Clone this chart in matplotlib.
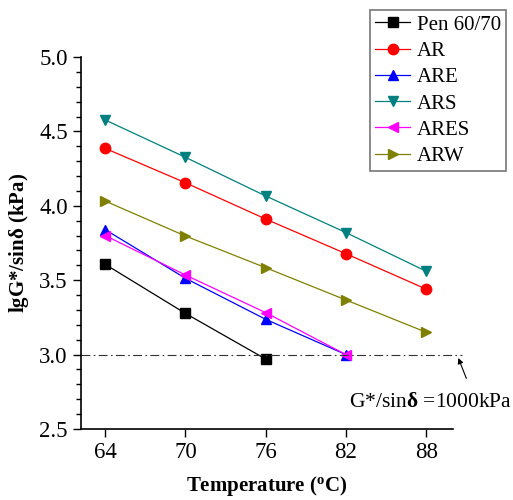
import matplotlib
matplotlib.use("Agg")
import matplotlib.pyplot as plt
from matplotlib.ticker import MultipleLocator

plt.rcParams['font.family'] = ['Liberation Serif', 'DejaVu Serif']
plt.rcParams['mathtext.fontset'] = 'custom'
plt.rcParams['mathtext.rm'] = 'Liberation Serif'
plt.rcParams['mathtext.bf'] = 'Liberation Serif:bold'

##### Dados #####
temp = [64, 70, 76, 82, 88]
pen = [3.607, 3.277, 2.97]
ar = [4.386, 4.155, 3.911, 3.678, 3.44]
are = [3.84, 3.513, 3.237, 3.0]
ars = [4.577, 4.326, 4.066, 3.82, 3.56]
ares = [3.80, 3.535, 3.282, 3.0]
arw = [4.032, 3.797, 3.584, 3.367, 3.15]

series = [
  ("Pen 60/70", pen, "black", "s"),
  ("AR", ar, "red", "o"),
  ("ARE", are, "blue", "^"),
  ("ARS", ars, "#008080", "v"),
  ("ARES", ares, "magenta", "<"),
  ("ARW", arw, "#808000", ">"),
]

fig = plt.figure(figsize=(5.13, 5.0), dpi=100)
ax = fig.add_axes([0.158, 0.142, 0.725, 0.744])

for name, vals, col, mk in series:
  ax.plot(temp[:len(vals)], vals, color=col, marker=mk, markersize=7.5,
          linewidth=0.9, label=name, clip_on=False)

# limite 1000 kPa
ax.plot([62.2, 90.7], [3.0, 3.0], color="#333333", linestyle=(0, (8, 3, 1.5, 3)),
        linewidth=0.8, clip_on=False)
ax.annotate("", xy=(90.4, 2.977), xytext=(91.0, 2.84), annotation_clip=False,
            arrowprops=dict(arrowstyle="-|>", color="black", lw=0.8, shrinkA=0, shrinkB=0,
                            mutation_scale=8))
ax.text(88.3, 2.68, "G*/sin" + r"$\mathbf{\delta}$" + " =1000kPa", ha="center", va="center",
        fontsize=15.5, clip_on=False)

ax.set_xlim(62.2, 90.0)
ax.set_ylim(2.5, 5.0)
ax.set_xticks(temp)
ax.yaxis.set_major_locator(MultipleLocator(0.5))
ax.yaxis.set_minor_locator(MultipleLocator(0.1))
ax.yaxis.set_major_formatter(matplotlib.ticker.FormatStrFormatter("%.1f"))
ax.tick_params(axis="both", which="major", direction="out", length=6, width=1, labelsize=16.5)
ax.tick_params(axis="y", which="minor", direction="out", length=3.5, width=1)
ax.spines["top"].set_visible(False)
ax.spines["right"].set_visible(False)
for s in ["left", "bottom"]:
  ax.spines[s].set_linewidth(1.2)

ax.set_xlabel("Temperature (" + r"$\mathbf{^{o}}$" + "C)", fontsize=15, fontweight="bold", labelpad=8)
ax.set_ylabel("lgG*/sin" + r"$\mathbf{\delta}$" + " (kPa)", fontsize=15, fontweight="bold", labelpad=6)

leg = fig.legend(loc="upper right", bbox_to_anchor=(506 / 513, 1 - 10 / 500), fontsize=15,
                 frameon=True, fancybox=False, handlelength=1.7, handletextpad=0.3,
                 borderpad=0.25, labelspacing=0.32, borderaxespad=0)
leg.get_frame().set_edgecolor("#555555")
leg.get_frame().set_linewidth(1.2)

fig.savefig("out.png", dpi=100)
